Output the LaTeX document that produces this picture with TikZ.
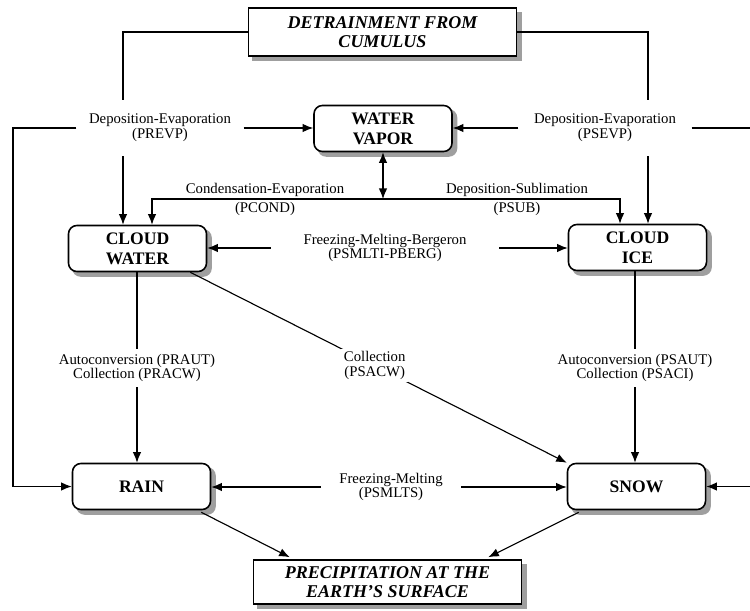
\documentclass[tikz,border=0pt]{standalone}
\usepackage{fontspec}
\setmainfont{Liberation Serif}
\usetikzlibrary{arrows.meta,backgrounds,calc}

\tikzset{
  box/.style={draw, line width=1.1pt, rounded corners=6pt, fill=white,
    minimum width=3.45cm, minimum height=1.15cm, align=center, inner sep=2pt,
    font=\fontsize{12.5}{14}\selectfont\bfseries},
  endbox/.style={draw, line width=1.1pt, fill=white, minimum width=6.7cm,
    align=center, inner sep=2pt,
    font=\fontsize{12.8}{13.8}\selectfont\bfseries\itshape},
  lbl/.style={align=center, font=\fontsize{10.5}{10.5}\selectfont, inner sep=2pt},
  shade/.style={fill=gray!75},
}

\begin{document}
\begin{tikzpicture}[x=0.025cm, y=-0.025cm, >={Latex[length=7.5pt,width=6pt]}, line width=0.8pt]
  \path[use as bounding box] (0,0) rectangle (750,611);

  % reservoirs
  \node[endbox, minimum height=1.2cm] (detr) at (382.5,32) {DETRAINMENT FROM\\CUMULUS};
  \node[box] (vapor) at (383,128.5) {WATER\\VAPOR};
  \node[box] (cwater) at (137.5,248.5) {CLOUD\\WATER};
  \node[box] (cice) at (637.5,247.5) {CLOUD\\ICE};
  \node[box] (rain) at (141.5,486.5) {RAIN};
  \node[box] (snow) at (636.5,486.5) {SNOW};
  \node[endbox, minimum height=1.1cm] (precip) at (387.5,582) {PRECIPITATION AT THE\\EARTH'S SURFACE};

  % shadows
  \begin{scope}[on background layer]
    \foreach \b in {vapor,cwater,cice,rain,snow}
      \fill[shade, rounded corners=6pt] ([shift={(4.5,4.5)}]\b.north west) rectangle ([shift={(4.5,4.5)}]\b.south east);
    \foreach \b in {detr,precip}
      \fill[shade] ([shift={(4.5,4.5)}]\b.north west) rectangle ([shift={(4.5,4.5)}]\b.south east);
  \end{scope}

  % process labels
  \node[lbl, inner xsep=0.3cm, inner ysep=0.35cm] (prevp) at (160,128) {Deposition-Evaporation\\(PREVP)};
  \node[lbl, inner xsep=0.38cm, inner ysep=0.35cm] (psevp) at (605,128) {Deposition-Evaporation\\(PSEVP)};
  \node[lbl] (pcond) at (265,199) {Condensation-Evaporation\\[3pt](PCOND)};
  \node[lbl] (psub) at (517,199) {Deposition-Sublimation\\[3pt](PSUB)};
  \node[lbl, inner xsep=0.8cm] (pberg) at (385,248) {Freezing-Melting-Bergeron\\(PSMLTI-PBERG)};
  \node[lbl, inner ysep=0.12cm] (praut) at (137,368) {Autoconversion (PRAUT)\\Collection (PRACW)};
  \node[lbl, inner ysep=0.12cm] (psaut) at (635,368) {Autoconversion (PSAUT)\\Collection (PSACI)};
  \node[lbl, inner xsep=0.45cm] (psmlts) at (391,487) {Freezing-Melting\\(PSMLTS)};

  % columns and rows of the lines
  \coordinate (lft) at (13,0);
  \coordinate (lcol) at (123,0);
  \coordinate (cw2) at (152,0);
  \coordinate (hbar) at (0,199);
  \coordinate (ci1) at (620,0);
  \coordinate (rcol) at (648,0);
  \coordinate (rgt) at (760,0);

  % detrainment, rain and snow evaporation
  \draw (detr.west) -| (lcol |- prevp.north);
  \draw[->] (lcol |- prevp.south) -- (lcol |- cwater.north);
  \draw[->] (prevp.east) -- (prevp.east -| vapor.west);
  \draw[->] (prevp.west) -| (lft |- rain.west) -- (rain.west);
  \draw (detr.east) -| (rcol |- psevp.north);
  \draw[->] (rcol |- psevp.south) -- (rcol |- cice.north);
  \draw[->] (psevp.west) -- (psevp.west -| vapor.east);
  \draw[->] (psevp.east) -| (rgt |- snow.east) -- (snow.east);

  % condensation, deposition
  \draw[<->] (vapor.south) -- (vapor.south |- hbar);
  \draw[->] (vapor.south |- hbar) -| (cw2 |- cwater.north);
  \draw[->] (vapor.south |- hbar) -| (ci1 |- cice.north);
  \draw[->] (pberg.west) -- (pberg.west -| cwater.east);
  \draw[->] (pberg.east) -- (pberg.east -| cice.west);

  % conversion and collection
  \draw (cwater.south -| praut) -- (praut.north);
  \draw[->] (praut.south) -- (praut.south |- rain.north);
  \draw (cice.south -| psaut) -- (psaut.north);
  \draw[->] (psaut.south) -- (psaut.south |- snow.north);
  \draw[->] ($(cwater.south east)+(-17,0)$) -- (snow.north west)
    node[lbl, pos=.49, fill=white] (psacw) {Collection\\(PSACW)};
  \draw[->] (psmlts.west) -- (psmlts.west -| rain.east);
  \draw[->] (psmlts.east) -- (psmlts.east -| snow.west);

  % fallout
  \draw[->] ($(rain.south east)+(-10,2)$) -- ($(precip.north west)+(37,-2)$);
  \draw[->] ($(snow.south west)+(12,2)$) -- ($(precip.north east)+(-34,-2)$);
\end{tikzpicture}
\end{document}
